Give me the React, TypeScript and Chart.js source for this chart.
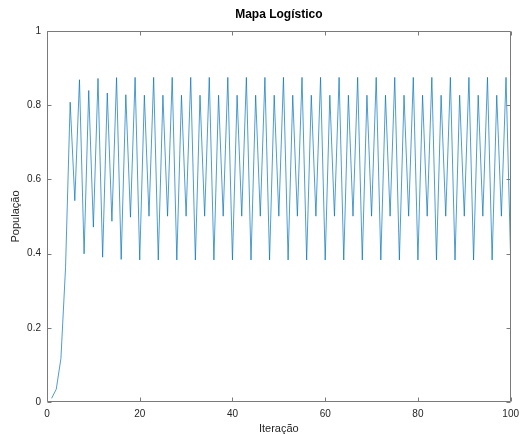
import { useEffect, useRef } from "react";
import { Chart, registerables } from "chart.js";

Chart.register(...registerables);

const chartTitle = "Mapa Logístico";
const xTitle = "Iteração";
const yTitle = "População";
const xTickValues = [0, 20, 40, 60, 80, 100];
const yTickValues = [0, 0.2, 0.4, 0.6, 0.8, 1];
const iterations = [
  1, 2, 3, 4, 5, 6, 7, 8, 9, 10, 11, 12, 13, 14, 15, 16, 17, 18, 19, 20,
  21, 22, 23, 24, 25, 26, 27, 28, 29, 30, 31, 32, 33, 34, 35, 36, 37, 38, 39, 40,
  41, 42, 43, 44, 45, 46, 47, 48, 49, 50, 51, 52, 53, 54, 55, 56, 57, 58, 59, 60,
  61, 62, 63, 64, 65, 66, 67, 68, 69, 70, 71, 72, 73, 74, 75, 76, 77, 78, 79, 80,
  81, 82, 83, 84, 85, 86, 87, 88, 89, 90, 91, 92, 93, 94, 95, 96, 97, 98, 99, 100,
];
const population = [
  0.01, 0.0347, 0.1171, 0.3618,
  0.8081, 0.5427, 0.8686, 0.3994,
  0.8396, 0.4714, 0.8721, 0.3903,
  0.8329, 0.4872, 0.8744, 0.3843,
  0.8282, 0.4981, 0.875, 0.3828,
  0.827, 0.5008, 0.875, 0.3828,
  0.8269, 0.5009, 0.875, 0.3828,
  0.8269, 0.5009, 0.875, 0.3828,
  0.8269, 0.5009, 0.875, 0.3828,
  0.8269, 0.5009, 0.875, 0.3828,
  0.8269, 0.5009, 0.875, 0.3828,
  0.8269, 0.5009, 0.875, 0.3828,
  0.8269, 0.5009, 0.875, 0.3828,
  0.8269, 0.5009, 0.875, 0.3828,
  0.8269, 0.5009, 0.875, 0.3828,
  0.8269, 0.5009, 0.875, 0.3828,
  0.8269, 0.5009, 0.875, 0.3828,
  0.8269, 0.5009, 0.875, 0.3828,
  0.8269, 0.5009, 0.875, 0.3828,
  0.8269, 0.5009, 0.875, 0.3828,
  0.8269, 0.5009, 0.875, 0.3828,
  0.8269, 0.5009, 0.875, 0.3828,
  0.8269, 0.5009, 0.875, 0.3828,
  0.8269, 0.5009, 0.875, 0.3828,
  0.8269, 0.5009, 0.875, 0.3828,
];

const FONT = "'Liberation Sans', Arial, Helvetica, sans-serif";
const TEXT = "#262626";
const AXIS = "#7a7a7a";

export default function App() {
  const ref = useRef<HTMLCanvasElement>(null);

  useEffect(() => {
    if (!ref.current) return;
    const framePlugin = {
      id: "frame",
      afterDraw(chart: any) {
        const { ctx, chartArea: a, scales } = chart;
        const L = Math.round(a.left) + 0.5;
        const R = Math.round(a.right) - 0.5;
        const T = Math.round(a.top) + 0.5;
        const B = Math.round(a.bottom) - 0.5;
        ctx.save();
        ctx.strokeStyle = AXIS;
        ctx.lineWidth = 1;
        ctx.beginPath();
        ctx.rect(L, T, R - L, B - T);
        const tl = 4;
        xTickValues.forEach((v) => {
          const x = Math.round(scales.x.getPixelForValue(v)) + 0.5;
          ctx.moveTo(x, B);
          ctx.lineTo(x, B - tl);
          ctx.moveTo(x, T);
          ctx.lineTo(x, T + tl);
        });
        yTickValues.forEach((v) => {
          const y = Math.round(scales.y.getPixelForValue(v)) + 0.5;
          ctx.moveTo(L, y);
          ctx.lineTo(L + tl, y);
          ctx.moveTo(R, y);
          ctx.lineTo(R - tl, y);
        });
        ctx.stroke();
        ctx.fillStyle = "#000";
        ctx.font = `bold 12px ${FONT}`;
        ctx.textAlign = "center";
        ctx.textBaseline = "middle";
        ctx.fillText(chartTitle, (a.left + a.right) / 2, 15);
        ctx.restore();
      },
    };

    const chart = new Chart(ref.current, {
      type: "line",
      data: {
        datasets: [
          {
            data: iterations.map((it, i) => ({ x: it, y: population[i] })),
            borderColor: "#0072BD",
            borderWidth: 0.7,
            pointRadius: 0,
            tension: 0,
            fill: false,
          },
        ],
      },
      options: {
        responsive: false,
        animation: false,
        layout: { padding: { left: 0, right: 9, top: 31, bottom: 0 } },
        plugins: { legend: { display: false }, tooltip: { enabled: false }, title: { display: false } },
        scales: {
          x: {
            type: "linear",
            min: 0,
            max: 100,
            grid: { display: false, drawTicks: false },
            border: { display: false },
            ticks: {
              stepSize: 20,
              padding: 6,
              color: TEXT,
              font: { family: FONT, size: 10 },
              maxRotation: 0,
            },
            title: {
              display: true,
              text: xTitle,
              color: TEXT,
              font: { family: FONT, size: 11, lineHeight: 1 },
              padding: { top: 0, bottom: 0 },
            },
            afterFit(scale: any) {
              scale.height = 32;
            },
          },
          y: {
            min: 0,
            max: 1,
            grid: { display: false, drawTicks: false },
            border: { display: false },
            ticks: {
              stepSize: 0.2,
              padding: 6,
              color: TEXT,
              font: { family: FONT, size: 10 },
              callback: (v: any) => String(Number(Number(v).toFixed(1))),
            },
            title: {
              display: true,
              text: yTitle,
              color: TEXT,
              font: { family: FONT, size: 11, lineHeight: 1 },
              padding: { top: 10.5, bottom: 0 },
            },
            afterFit(scale: any) {
              scale.width = 47;
            },
          },
        },
      },
      plugins: [framePlugin],
    });
    return () => chart.destroy();
  }, []);

  return (
    <div style={{ position: "fixed", left: 0, top: 0, width: 525, height: 434, background: "#fff" }}>
      <canvas ref={ref} width={525} height={434} style={{ display: "block" }} />
    </div>
  );
}
